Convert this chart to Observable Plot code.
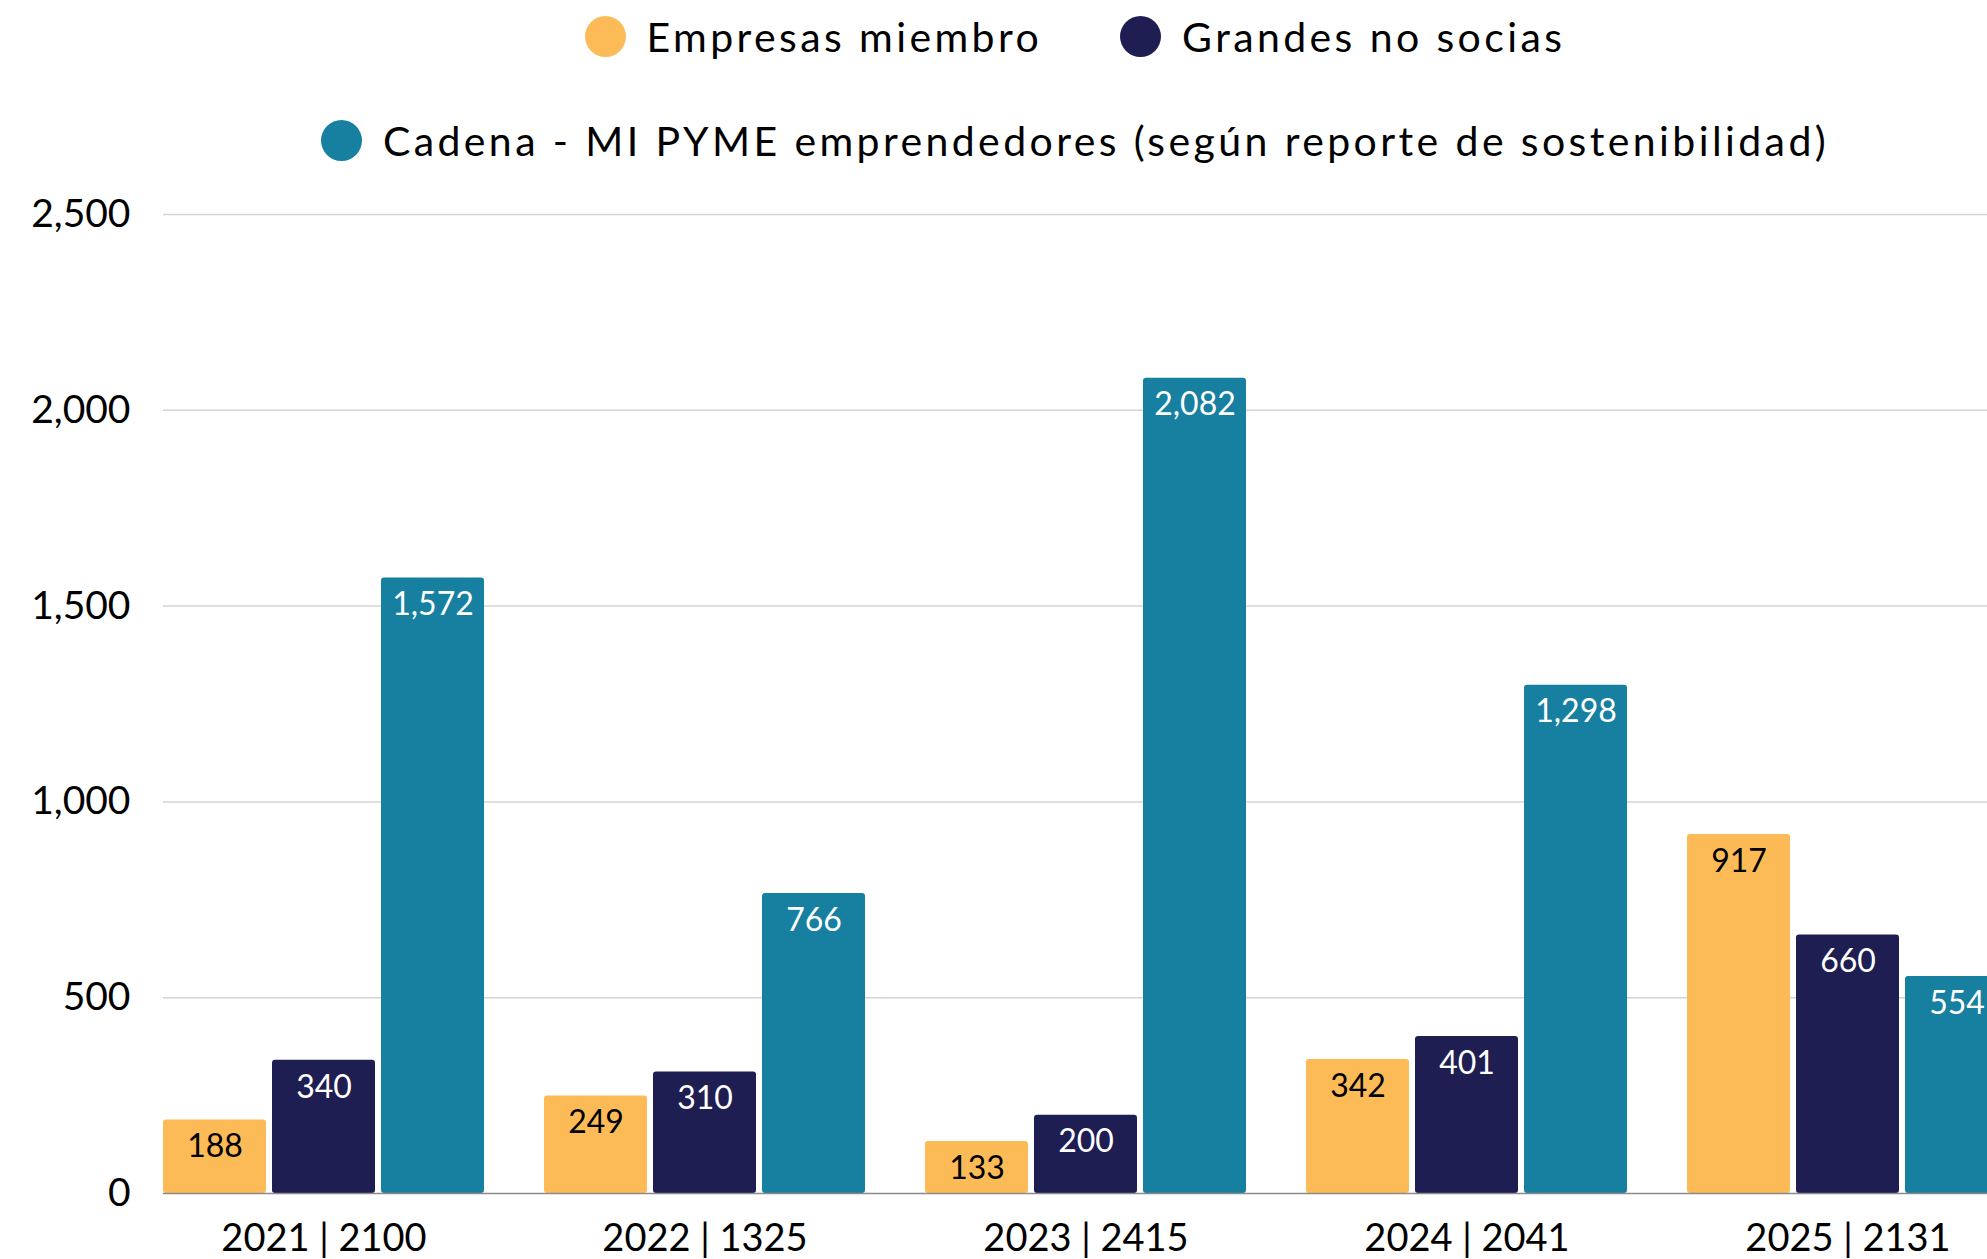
<!DOCTYPE html>
<html><head><meta charset="utf-8">
<script src="https://cdn.jsdelivr.net/npm/d3@7"></script>
<script src="https://cdn.jsdelivr.net/npm/@observablehq/plot@0.6"></script>
<style>
html,body{margin:0;padding:0;background:#fff;font-family:Lato,sans-serif;color:#000;overflow:hidden;}
#legend{position:relative;width:1987px;height:170px;}
.row{position:absolute;left:163px;right:0;height:0;display:flex;justify-content:center;align-items:center;font-size:41px;letter-spacing:3.4px;white-space:nowrap;}
.item{display:flex;align-items:center;margin:0 39px;}
.sw{width:41px;height:41px;border-radius:50%;margin-right:21px;flex:none;}
</style></head>
<body>
<div id="legend"></div>
<div id="chart"></div>
<script>
const years = ["2021 | 2100", "2022 | 1325", "2023 | 2415", "2024 | 2041", "2025 | 2131"];
const series = ["Empresas miembro", "Grandes no socias", "Cadena - MI PYME emprendedores (según reporte de sostenibilidad)"];
const empresas = [188, 249, 133, 342, 917];
const grandes = [340, 310, 200, 401, 660];
const cadena = [1572, 766, 2082, 1298, 554];
const colors = ["#FDBB58", "#1F1E52", "#1780A0"];
const labelColors = ["#000000", "#ffffff", "#ffffff"];
const yTicks = [0, 500, 1000, 1500, 2000, 2500];
const legendRows = [[0, 1], [2]];

const values = [empresas, grandes, cadena];
const rows = years.flatMap((year, i) => series.map((s, j) => ({year, series: s, value: values[j][i], label: labelColors[j]})));
const grid = years.flatMap(year => yTicks.map(v => ({year, v})));

// legend
const legend = document.getElementById("legend");
legendRows.forEach((r, k) => {
  const row = document.createElement("div");
  row.className = "row";
  row.style.top = (k === 0 ? 36 : 140) + "px";
  r.forEach(j => {
    const it = document.createElement("div");
    it.className = "item";
    const sw = document.createElement("span");
    sw.className = "sw";
    sw.style.background = colors[j];
    it.appendChild(sw);
    it.appendChild(document.createTextNode(series[j]));
    row.appendChild(it);
  });
  legend.appendChild(row);
});

const fmt = d3.format(",");
const gap = 30;
const first = d => d.year === years[0];
const rest = d => d.year !== years[0];
const chart = Plot.plot({
  width: 1987,
  height: 1089,
  marginLeft: 163,
  marginRight: -21,
  marginTop: 44,
  marginBottom: 66,
  style: {fontFamily: "Lato, sans-serif", overflow: "hidden", background: "white", color: "black"},
  fx: {domain: years, paddingInner: 60 / 381, paddingOuter: 0, round: false, axis: null, label: null},
  x: {domain: series, paddingInner: 6 / 109, paddingOuter: 0, round: false, axis: null},
  y: {domain: [0, 2500], axis: null},
  color: {domain: series, range: colors},
  marks: [
    Plot.ruleY(grid, {filter: d => first(d) && d.v > 0, fx: "year", y: "v", stroke: "#d4d4d4", strokeWidth: 1.5, insetRight: -gap}),
    Plot.ruleY(grid, {filter: d => rest(d) && d.v > 0, fx: "year", y: "v", stroke: "#d4d4d4", strokeWidth: 1.5, insetLeft: -gap, insetRight: -gap}),
    Plot.barY(rows, {fx: "year", x: "series", y: "value", fill: "series", rx: 3}),
    Plot.ruleY(grid, {filter: d => first(d) && d.v === 0, fx: "year", y: "v", stroke: "#8a8a8a", strokeWidth: 1.5, insetRight: -gap}),
    Plot.ruleY(grid, {filter: d => rest(d) && d.v === 0, fx: "year", y: "v", stroke: "#8a8a8a", strokeWidth: 1.5, insetLeft: -gap, insetRight: -gap}),
    Plot.text(rows, {fx: "year", x: "series", y: "value", text: d => fmt(d.value), fill: "label", dy: 27, fontSize: 32}),
    Plot.axisY({ticks: yTicks, tickFormat: fmt, tickSize: 0, tickPadding: 33, fontSize: 39, label: null}),
    Plot.axisFx({anchor: "bottom", tickSize: 0, tickPadding: 31, fontSize: 38, label: null})
  ]
});
document.getElementById("chart").appendChild(chart);
</script>
</body></html>
